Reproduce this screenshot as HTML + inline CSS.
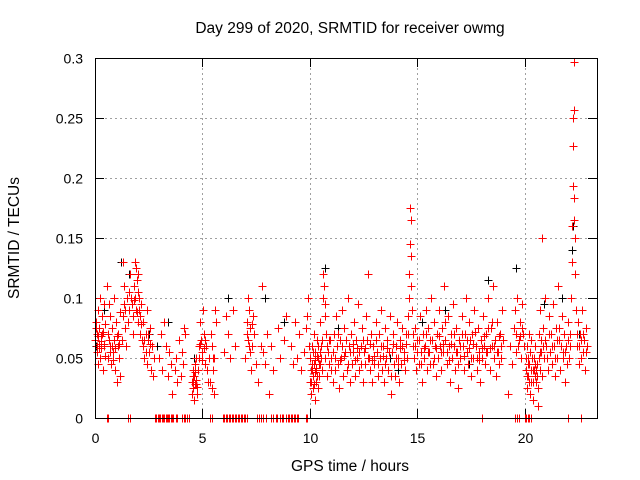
<!DOCTYPE html>
<html><head><meta charset="utf-8"><style>
html,body{margin:0;padding:0;background:#fff;}
svg{display:block;font-family:"Liberation Sans",sans-serif;}
</style></head><body>
<svg id="chart" width="640" height="480">
<rect width="640" height="480" fill="#fff"/>
<text x="350" y="33" text-anchor="middle" font-size="15.5" fill="#000">Day 299 of 2020, SRMTID for receiver owmg</text>
<text x="350" y="471" text-anchor="middle" font-size="15.5" fill="#000">GPS time / hours</text>
<text transform="translate(19,238) rotate(-90)" text-anchor="middle" font-size="15.5" fill="#000">SRMTID / TECUs</text>
<g id="grid"></g>
<g id="axes"></g>
<g id="black"></g>
<g id="red"></g>
<rect x="95.5" y="58.5" width="502" height="360" fill="none" stroke="#000" stroke-width="1"/>
</svg>
<script>
const xTicks=[0,5,10,15,20];
const yTicks=[0,0.05,0.1,0.15,0.2,0.25,0.3];
const yTickLabels=["0","0.05","0.1","0.15","0.2","0.25","0.3"];
const redPoints=[[0.02,.065],[0.05,.08],[0.07,.055],[0.1,.07],[0.12,.045],[0.15,.09],[0.18,.062],[0.2,.075],[0.22,.05],[0.25,.1],[0.28,.068],[0.3,.058],[0.32,.085],[0.35,.04],[0.38,.072],[0.4,.06],[0.42,.095],[0.45,.052],[0.48,.078],
[0.55,.11],[0.6,.07],[0.62,.05],[0.65,.095],[0.7,.085],[0.72,.06],[0.75,.045],[0.8,.075],[0.85,.055],[0.88,.1],[0.9,.065],[0.95,.04],[1.0,.08],[1.02,.03],[1.05,.06],[1.08,.07],[1.1,.05],[1.15,.088],[1.18,.035],
[1.25,.065],[1.3,.13],[1.32,.085],[1.35,.11],[1.38,.075],[1.4,.09],[1.45,.06],[1.48,.1],
[1.55,.08],[1.6,.105],[1.65,.12],[1.7,.095],[1.75,.07],[1.8,.11],[1.85,.13],[1.88,.1],[1.9,.125],[1.92,.09],[1.95,.115],[1.98,.105],[2.0,.12],[2.02,.08],[2.05,.1],[2.08,.085],[2.1,.07],[2.15,.095],[2.18,.065],
[2.22,.06],[2.25,.08],[2.3,.05],[2.35,.07],[2.4,.09],[2.42,.045],[2.45,.065],[2.5,.055],[2.55,.075],[2.6,.04],[2.65,.06],[2.7,.035],[2.75,.05],
[3.0,.05],[3.05,.07],[3.1,.04],[3.2,.08],[3.3,.06],[3.4,.035],[3.45,.055],
[3.55,.045],[3.6,.02],[3.7,.04],[3.75,.05],[3.8,.03],[3.9,.065],[4.0,.035],[4.05,.055],[4.1,.045],[4.15,.075],[4.2,.07],
[4.5,.03],[4.52,.02],[4.55,.04],[4.58,.025],[4.6,.035],[4.62,.015],[4.65,.045],[4.68,.028],[4.7,.05],[4.72,.032],[4.75,.02],[4.78,.04],
[4.82,.06],[4.85,.05],[4.9,.08],[4.95,.065],[5.0,.055],[5.02,.09],[5.05,.07],[5.1,.045],[5.15,.06],[5.2,.04],[5.25,.03],[5.28,.05],
[5.35,.03],[5.4,.07],[5.42,.025],[5.45,.06],[5.5,.04],[5.52,.02],[5.55,.05],[5.6,.09],[5.65,.08],
[6.0,.055],[6.1,.085],[6.2,.07],[6.3,.05],[6.4,.09],[6.5,.06],
[7.0,.05],[7.05,.08],[7.1,.065],[7.12,.1],[7.15,.09],[7.2,.055],[7.22,.075],[7.25,.04],[7.3,.06],[7.35,.085],[7.4,.07],
[7.5,.045],[7.6,.03],[7.7,.06],[7.75,.11],[7.8,.055],[7.9,.045],[8.0,.07],
[8.1,.02],[8.2,.06],[8.3,.04],[8.5,.075],[8.6,.05],[8.8,.065],[8.9,.085],
[9.1,.06],[9.2,.045],[9.3,.08],[9.4,.05],[9.5,.07],[9.6,.04],[9.7,.055],[9.8,.075],[9.9,.1],
[10.0,.03],[10.02,.05],[10.05,.02],[10.08,.04],[10.1,.06],[10.12,.025],[10.15,.035],[10.18,.07],[10.2,.045],[10.22,.015],[10.25,.055],[10.28,.03],[10.3,.04],[10.32,.065],[10.35,.025],[10.38,.05],[10.4,.035],[10.45,.08],[10.48,.045],
[10.5,.06],[10.55,.04],[10.6,.1],[10.62,.12],[10.65,.11],[10.7,.085],[10.72,.05],[10.75,.07],[10.8,.035],[10.85,.055],[10.9,.045],[10.95,.065],
[11.0,.05],[11.05,.03],[11.1,.07],[11.15,.04],[11.2,.085],[11.25,.06],[11.3,.045],[11.35,.025],[11.4,.065],[11.45,.05],[11.5,.09],[11.55,.035],[11.6,.075],[11.65,.055],[11.7,.04],[11.75,.1],[11.8,.06],[11.85,.03],[11.9,.07],[11.95,.045],[12.0,.055],[12.05,.08],[12.1,.035],[12.15,.065],[12.2,.05],[12.25,.095],[12.3,.04],[12.35,.06],[12.4,.075],[12.45,.03],[12.5,.055],[12.55,.045],[12.6,.085],[12.65,.065],[12.7,.12],[12.75,.05],[12.8,.04],[12.85,.07],[12.9,.03],[12.95,.06],[13.0,.045],[13.05,.08],[13.1,.055],[13.15,.035],[13.2,.07],[13.25,.05],[13.3,.09],[13.35,.04],[13.4,.06],[13.45,.03],[13.5,.075],[13.55,.05],[13.6,.065],[13.65,.04],[13.7,.085],[13.75,.02],[13.8,.055],[13.85,.07],[13.9,.045],[13.95,.035],[14.0,.06],[14.05,.08],[14.1,.05],[14.15,.03],[14.2,.065],[14.25,.045],[14.3,.075],[14.35,.055],[14.4,.04],[14.45,.07],[14.5,.05],[14.55,.085],
[14.6,.1],[14.62,.12],[14.65,.145],[14.67,.175],[14.68,.165],[14.7,.135],[14.72,.11],[14.75,.09],[14.78,.07],[14.8,.06],
[14.85,.05],[14.9,.075],[14.95,.04],[15.0,.065],[15.05,.045],[15.1,.085],[15.15,.055],[15.2,.03],[15.25,.07],[15.3,.05],[15.35,.06],[15.4,.09],[15.45,.04],[15.5,.075],[15.55,.055],[15.6,.065],[15.65,.1],[15.7,.045],[15.75,.08],[15.8,.06],[15.85,.035],[15.9,.07],[15.95,.05],[16.0,.09],[16.05,.06],[16.1,.04],[16.15,.075],[16.2,.055],[16.25,.11],[16.3,.065],[16.35,.045],[16.4,.085],[16.45,.06],[16.5,.03],[16.55,.07],[16.6,.05],[16.65,.095],[16.7,.06],[16.75,.04],[16.8,.075],[16.85,.055],[16.9,.025],[16.95,.065],[17.0,.05],[17.05,.085],[17.1,.06],[17.15,.04],[17.2,.07],[17.25,.1],[17.3,.055],[17.35,.045],[17.4,.08],[17.45,.065],[17.5,.035],[17.55,.07],[17.6,.05],[17.65,.09],[17.7,.06],[17.75,.04],[17.8,.075],[17.85,.055],[17.9,.03],[17.95,.065],[18.0,.05],[18.05,.085],[18.1,.06],[18.15,.045],[18.2,.07],[18.25,.055],[18.3,.1],[18.35,.04],[18.4,.075],[18.45,.06],[18.5,.11],[18.55,.05],[18.6,.065],[18.65,.035],[18.7,.08],[18.75,.055],[18.8,.045],[18.85,.07],[18.9,.06],[18.95,.09],
[19.2,.02],[19.3,.06],[19.4,.045],[19.5,.075],[19.55,.09],[19.6,.055],[19.65,.1],[19.7,.065],[19.75,.08],[19.8,.05],[19.85,.095],[19.9,.07],[19.95,.06],
[20.05,.04],[20.08,.06],[20.1,.025],[20.12,.05],[20.15,.035],[20.18,.07],[20.2,.045],[20.22,.02],[20.25,.055],[20.28,.03],[20.3,.065],[20.35,.04],[20.38,.015],[20.4,.05],[20.45,.035],[20.48,.06],
[20.52,.03],[20.55,.045],[20.6,.01],[20.62,.025],[20.65,.07],[20.7,.04],[20.72,.09],[20.75,.055],[20.78,.15],[20.8,.035],[20.85,.075],[20.9,.05],[20.95,.1],[21.0,.06],[21.05,.04],[21.1,.085],[21.15,.055],[21.2,.07],
[21.25,.045],[21.3,.095],[21.35,.06],[21.4,.035],[21.45,.075],[21.5,.05],[21.55,.11],[21.6,.065],[21.65,.04],[21.7,.085],[21.75,.055],[21.8,.07],[21.85,.03],[21.9,.06],[21.95,.045],[22.0,.08],[22.05,.05],[22.1,.07],
[22.15,.1],[22.18,.13],[22.2,.16],[22.22,.193],[22.24,.227],[22.25,.25],[22.26,.257],[22.27,.297],[22.28,.183],[22.3,.165],[22.32,.15],[22.34,.12],[22.36,.09],
[22.4,.06],[22.45,.08],[22.5,.045],[22.55,.07],[22.6,.05],[22.65,.09],[22.7,.055],[22.75,.065],[22.8,.04],[22.85,.075],[22.9,.06]];
const redPointsExtra=[[0.03,.075],[0.09,.06],[0.14,.068],[0.19,.058],[0.27,.064],[0.33,.07],[0.44,.062],[0.63,.065],[0.68,.055],[0.78,.06],[0.83,.048],[0.93,.058],[1.03,.068],[1.13,.062],[1.36,.095],[1.58,.09],[1.68,.1],[1.78,.085],[1.83,.098],[1.97,.088],[2.04,.09],[2.12,.078],[2.28,.065],[2.38,.055],[2.48,.07],[2.58,.062],
[4.54,.03],[4.57,.035],[4.63,.028],[4.67,.038],[4.73,.026],[4.88,.062],[4.98,.048],[5.08,.058],[5.12,.065],[5.48,.05],[7.08,.07],[7.18,.06],[7.28,.078],[9.85,.085],[9.95,.06],
[10.03,.04],[10.07,.03],[10.11,.045],[10.14,.055],[10.17,.028],[10.21,.038],[10.24,.048],[10.27,.042],[10.31,.052],[10.34,.035],[10.37,.06],[10.42,.045],[10.47,.055],[10.52,.05],[10.58,.065],[10.68,.095],[10.78,.06],[10.88,.065],[10.98,.04],
[11.08,.055],[11.18,.05],[11.28,.07],[11.38,.048],[11.48,.06],[11.58,.052],[11.68,.065],[11.78,.045],[11.88,.055],[11.98,.062],[12.08,.048],[12.18,.058],[12.28,.055],[12.38,.045],[12.48,.065],[12.58,.058],[12.68,.05],[12.78,.062],[12.88,.048],[12.98,.052],[13.08,.065],[13.18,.045],[13.28,.06],[13.38,.052],[13.48,.045],[13.58,.058],[13.68,.055],[13.78,.035],[13.88,.062],[13.98,.05],[14.08,.045],[14.18,.058],[14.28,.06],[14.38,.048],[14.48,.062],[14.58,.07],
[14.88,.06],[14.98,.055],[15.08,.065],[15.18,.045],[15.28,.058],[15.38,.07],[15.48,.055],[15.58,.045],[15.68,.065],[15.78,.05],[15.88,.058],[15.98,.068],[16.08,.055],[16.18,.062],[16.28,.08],[16.38,.055],[16.48,.048],[16.58,.062],[16.68,.07],[16.78,.055],[16.88,.045],[16.98,.06],[17.08,.07],[17.18,.052],[17.28,.065],[17.38,.058],[17.48,.05],[17.58,.062],[17.68,.072],[17.78,.05],[17.88,.048],[17.98,.058],[18.08,.068],[18.18,.055],[18.28,.075],[18.38,.058],[18.48,.08],[18.58,.06],[18.68,.055],[18.78,.068],[18.88,.05],[18.98,.065],
[19.58,.07],[19.68,.06],[19.78,.068],[19.88,.075],[20.06,.05],[20.11,.035],[20.16,.045],[20.21,.03],[20.26,.04],[20.31,.05],[20.36,.03],[20.41,.04],[20.46,.045],[20.53,.04],[20.58,.035],[20.63,.05],[20.68,.055],[20.73,.065],[20.83,.06],[20.93,.065],[21.03,.05],[21.13,.07],[21.28,.06],[21.38,.05],[21.48,.065],[21.58,.075],[21.68,.06],[21.78,.05],[21.88,.055],[21.98,.065],[22.08,.06],[22.42,.07],[22.52,.06],[22.62,.065],[22.72,.07],[22.82,.055]];
const zeroTimes=[0.55,0.6,1.55,1.62,2.8,2.86,2.92,2.98,3.04,3.1,3.16,3.22,3.28,3.34,3.4,3.46,3.52,3.58,3.64,3.75,3.82,4.05,4.12,4.2,4.28,4.38,5.35,5.42,5.95,6.02,6.09,6.16,6.23,6.3,6.37,6.44,6.51,6.58,6.65,6.72,6.79,6.86,6.93,7.0,7.07,7.55,7.62,7.7,7.82,7.95,8.2,8.27,8.4,8.47,8.62,8.69,8.76,8.9,8.97,9.04,9.11,9.18,9.25,9.32,9.39,9.46,9.8,9.87,18.0,19.55,19.62,19.7,20.0,20.07,20.14,20.21,20.28,21.98,22.62];
const blackPoints=[[0.05,.06],[0.4,.09],[1.2,.13],[1.6,.12],[2.5,.07],[2.9,.06],[3.4,.08],[4.6,.05],[6.2,.1],[7.9,.1],[8.8,.08],[10.7,.125],[11.3,.075],[13.7,.05],[14.1,.04],[15.2,.08],[16.3,.09],[17.4,.045],[18.3,.115],[19.6,.125],[20.9,.095],[21.7,.1],[22.2,.14],[22.25,.16],[22.5,.07]];

const L=95,R=597,T=58,B=418,XMAX=23.35,YMAX=0.3;
const NS="http://www.w3.org/2000/svg";
function xs(t){return L+(R-L)*t/XMAX;}
function ys(v){return B-(B-T)*v/YMAX;}
function mk(tag,attrs,parent){const e=document.createElementNS(NS,tag);for(const k in attrs)e.setAttribute(k,attrs[k]);parent.appendChild(e);return e;}
const grid=document.getElementById('grid'),axes=document.getElementById('axes');
yTicks.forEach((v,i)=>{
  const y=Math.round(ys(v))+0.5;
  if(v>0&&v<YMAX){const g=mk('line',{x1:L,x2:R,y1:y,y2:y,stroke:'#a0a0a0','stroke-dasharray':'2,3','stroke-width':1},grid);
  
  }
  mk('line',{x1:L,x2:L+9,y1:y,y2:y,stroke:'#000'},axes);
  mk('line',{x1:R-9,x2:R,y1:y,y2:y,stroke:'#000'},axes);
  const t=mk('text',{x:L-12,y:y+5,'text-anchor':'end','font-size':14,fill:'#000'},axes);
  t.textContent=yTickLabels[i];
  
  
});
xTicks.forEach(v=>{
  const x=Math.round(xs(v))+0.5;
  if(v>0){const g=mk('line',{x1:x,x2:x,y1:T,y2:B,stroke:'#a0a0a0','stroke-dasharray':'2,3','stroke-width':1},grid);
  
  }
  mk('line',{x1:x,x2:x,y1:B-9,y2:B,stroke:'#000'},axes);
  mk('line',{x1:x,x2:x,y1:T,y2:T+9,stroke:'#000'},axes);
  const t=mk('text',{x:x,y:B+25,'text-anchor':'middle','font-size':14,fill:'#000'},axes);
  t.textContent=String(v);
  
  
});
function plus(g,t,v,color,name){
  const x=Math.round(xs(t))+0.5,y=Math.round(ys(v))+0.5;
  const p=mk('path',{d:`M${x-4},${y}H${x+4}M${x},${y-4}V${y+4}`,stroke:color,'stroke-width':1.2,fill:'none','shape-rendering':'crispEdges'},g);
  
  
}
const bg=document.getElementById('black'),rg=document.getElementById('red');
blackPoints.forEach(p=>plus(bg,p[0],p[1],'#000','black-point'));
redPoints.forEach(p=>plus(rg,p[0],p[1],'#f00','red-point'));
redPointsExtra.forEach(p=>plus(rg,p[0],p[1],'#f00','red-point'));
zeroTimes.forEach(t=>plus(rg,t,0,'#f00','zero-point'));
</script>
</body></html>
